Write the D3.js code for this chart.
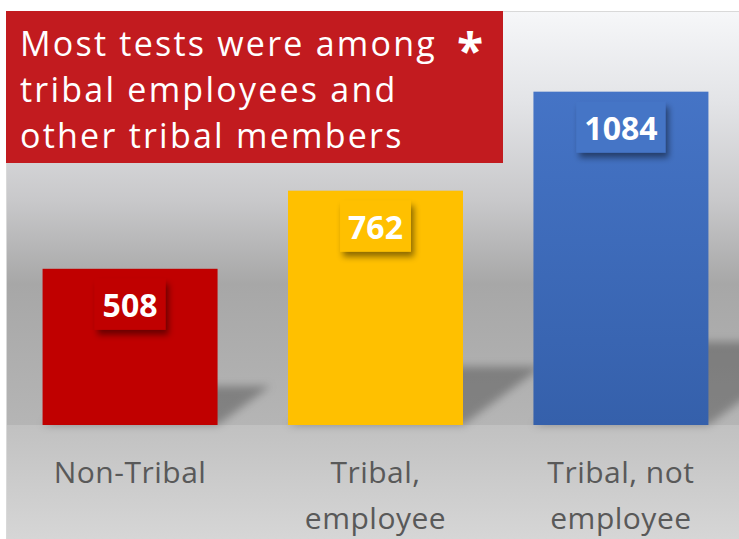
<!DOCTYPE html>
<html>
<head>
<meta charset="utf-8">
<script src="https://cdn.jsdelivr.net/npm/d3@7"></script>
<style>
    html, body {
        margin: 0;
        padding: 0;
        background: #ffffff;
    }
</style>
</head>
<body>
<svg id="testsChart"></svg>

<script>

// CHART DATA

const categories = ["Non-Tribal", "Tribal, employee", "Tribal, not employee"];

const categoryLabelLines = [
    ["Non-Tribal"],
    ["Tribal,", "employee"],
    ["Tribal, not", "employee"]
];

const testCounts = [508, 762, 1084];

const titleLines = [
    "Most tests were among",
    "tribal employees and",
    "other tribal members"
];

const titleMark = "*";


// STYLES

const barColors = ["#c00000", "#ffc000", "#4472c4"];
const labelColors = ["#c00000", "#ffc000", "#4574c6"];


// SVG SETUP

let width = 739;
let height = 539;

let svg = d3.select("#testsChart")
    .attr("width", width)
    .attr("height", height);

let defs = svg.append("defs");


// Wall gradient

let wallGradient = defs.append("linearGradient")
    .attr("id", "wallGradient")
    .attr("x1", 0).attr("y1", 0)
    .attr("x2", 0).attr("y2", 1);

let wallStops = [
    [0, "#f6f7f9"],
    [0.22, "#e3e4e7"],
    [0.46, "#c8c8ca"],
    [0.66, "#a7a7a7"],
    [1, "#b5b5b5"]
];

for (let stop of wallStops) {
    wallGradient.append("stop")
        .attr("offset", stop[0])
        .attr("stop-color", stop[1]);
}


// Floor gradient

let floorGradient = defs.append("linearGradient")
    .attr("id", "floorGradient")
    .attr("x1", 0).attr("y1", 0)
    .attr("x2", 0).attr("y2", 1);

floorGradient.append("stop").attr("offset", 0).attr("stop-color", "#c1c1c1");
floorGradient.append("stop").attr("offset", 1).attr("stop-color", "#d6d6d6");


// Blue bar gradient

let blueGradient = defs.append("linearGradient")
    .attr("id", "blueGradient")
    .attr("x1", 0).attr("y1", 0)
    .attr("x2", 0).attr("y2", 1);

blueGradient.append("stop").attr("offset", 0).attr("stop-color", "#4574c6");
blueGradient.append("stop").attr("offset", 1).attr("stop-color", "#3560ab");


// Shadows

let floorShadow = defs.append("filter")
    .attr("id", "floorShadow")
    .attr("x", "-50%").attr("y", "-50%")
    .attr("width", "200%").attr("height", "200%");

floorShadow.append("feGaussianBlur")
    .attr("stdDeviation", 4);

let labelShadow = defs.append("filter")
    .attr("id", "labelShadow")
    .attr("x", "-30%").attr("y", "-30%")
    .attr("width", "160%").attr("height", "160%");

labelShadow.append("feDropShadow")
    .attr("dx", 3)
    .attr("dy", 5)
    .attr("stdDeviation", 3)
    .attr("flood-color", "#000000")
    .attr("flood-opacity", 0.45);


// SCALES

let chartLeft = 6;
let chartTop = 11;
let floorY = 425;

let x = d3.scaleBand()
    .domain(categories)
    .range([chartLeft, 745])
    .paddingInner(0.287)
    .paddingOuter(0.149);

let y = d3.scaleLinear()
    .domain([0, 1200])
    .range([floorY, 56]);


// Stretch a text's letter spacing so it fills a given width

function fitLetterSpacing(textSelection, targetWidth) {
    let node = textSelection.node();
    let naturalWidth = node.getComputedTextLength();
    let letterCount = node.textContent.length;
    return (targetWidth - naturalWidth) / letterCount;
}


// BACKGROUND

svg.append("rect")
    .attr("x", chartLeft)
    .attr("y", chartTop)
    .attr("width", width - chartLeft)
    .attr("height", floorY - chartTop)
    .attr("fill", "url(#wallGradient)");

svg.append("rect")
    .attr("x", chartLeft)
    .attr("y", floorY)
    .attr("width", width - chartLeft)
    .attr("height", height - floorY)
    .attr("fill", "url(#floorGradient)");

svg.append("path")
    .attr("d", "M" + (chartLeft + 0.5) + "," + height + "V" + (chartTop + 0.5) + "H" + width)
    .attr("fill", "none")
    .attr("stroke", "#d9d9d9")
    .attr("stroke-width", 1);


// BAR SHADOWS (perspective, lying on the floor)

let barData = categories.map(function (category, i) {
    return { category: category, value: testCounts[i], index: i };
});

svg.append("g")
    .selectAll("polygon")
    .data(barData)
    .join("polygon")
    .attr("points", function (d) {
        let left = x(d.category);
        let right = left + x.bandwidth();
        let shadowHeight = (floorY - y(d.value)) * 0.25;
        let shift = shadowHeight * 1.35;
        return [
            [left, floorY],
            [right, floorY],
            [right + shift, floorY - shadowHeight],
            [left + shift, floorY - shadowHeight]
        ].join(" ");
    })
    .attr("fill", "#000000")
    .attr("fill-opacity", 0.28)
    .attr("filter", "url(#floorShadow)");


// BARS

svg.append("g")
    .selectAll("rect")
    .data(barData)
    .join("rect")
    .attr("x", function (d) { return x(d.category); })
    .attr("y", function (d) { return y(d.value); })
    .attr("width", x.bandwidth())
    .attr("height", function (d) { return y(0) - y(d.value); })
    .attr("fill", function (d) {
        if (d.index === 2) {
            return "url(#blueGradient)";
        }
        return barColors[d.index];
    });


// VALUE LABELS

let valueLabels = svg.append("g")
    .selectAll("g")
    .data(barData)
    .join("g");

valueLabels.append("rect")
    .attr("fill", function (d) { return labelColors[d.index]; })
    .attr("filter", "url(#labelShadow)");

valueLabels.append("text")
    .attr("x", function (d) { return x(d.category) + x.bandwidth() / 2; })
    .attr("y", function (d) { return y(d.value) + 48; })
    .attr("text-anchor", "middle")
    .attr("font-family", "'Open Sans', sans-serif")
    .attr("font-weight", "bold")
    .attr("font-size", 32)
    .attr("fill", "#ffffff")
    .text(function (d) { return d.value; });

valueLabels.each(function (d) {
    let group = d3.select(this);
    let textWidth = group.select("text").node().getComputedTextLength();
    let boxWidth = textWidth + 16;
    group.select("rect")
        .attr("x", x(d.category) + x.bandwidth() / 2 - boxWidth / 2)
        .attr("y", y(d.value) + 10)
        .attr("width", boxWidth)
        .attr("height", 51);
});


// CATEGORY AXIS

let xAxis = svg.append("g")
    .attr("transform", "translate(0," + floorY + ")")
    .call(d3.axisBottom(x).tickSize(0));

xAxis.select(".domain").remove();

xAxis.selectAll(".tick text")
    .attr("fill", "#595959")
    .attr("font-family", "'Open Sans', sans-serif")
    .attr("font-size", 30)
    .attr("letter-spacing", 0.5)
    .attr("dy", null)
    .attr("y", 58)
    .text(null)
    .each(function (category) {
        let lines = categoryLabelLines[categories.indexOf(category)];
        let text = d3.select(this);
        for (let i = 0; i < lines.length; i++) {
            text.append("tspan")
                .attr("x", 0)
                .attr("y", 58 + i * 46)
                .text(lines[i]);
        }
    });


// TITLE BOX

svg.append("rect")
    .attr("x", chartLeft)
    .attr("y", chartTop)
    .attr("width", 497)
    .attr("height", 152)
    .attr("fill", "#c21b1f");

let titleSpacing = 0;

for (let i = 0; i < titleLines.length; i++) {

    let line = svg.append("text")
        .attr("x", 20)
        .attr("y", 56 + i * 46)
        .attr("font-family", "'Open Sans', sans-serif")
        .attr("font-size", 34)
        .attr("fill", "#ffffff")
        .text(titleLines[i]);

    if (i === 0) {
        titleSpacing = fitLetterSpacing(line, 417);
    }

    line.attr("letter-spacing", titleSpacing);

}

svg.append("text")
    .attr("x", 470)
    .attr("y", 68)
    .attr("text-anchor", "middle")
    .attr("font-family", "'Open Sans', sans-serif")
    .attr("font-weight", "bold")
    .attr("font-size", 48)
    .attr("fill", "#ffffff")
    .text(titleMark);

</script>
</body>
</html>
